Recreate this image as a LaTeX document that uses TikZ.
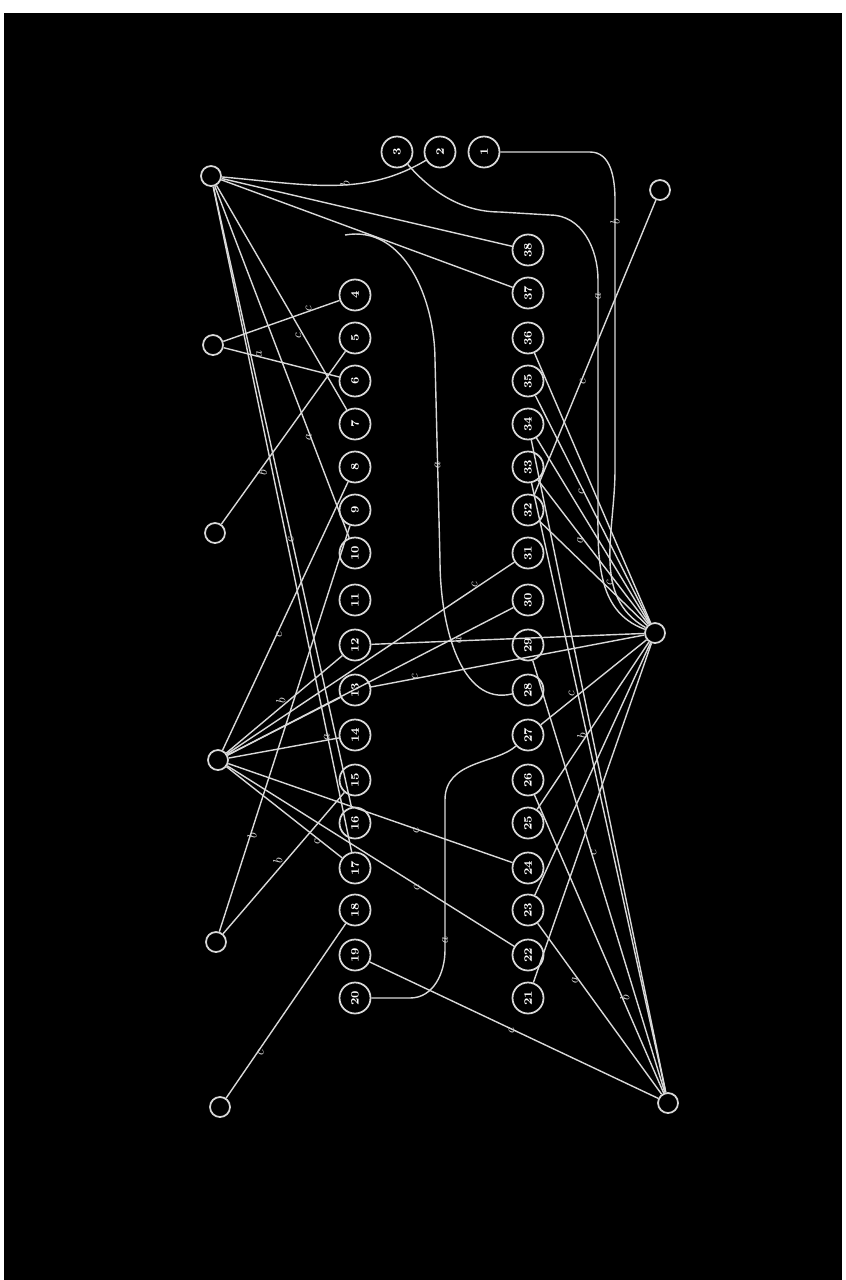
\documentclass[tikz,border=0pt]{standalone}
\usetikzlibrary{positioning}
\begin{document}
\begin{tikzpicture}[x=0.2mm,y=-0.2mm,
    hub/.style={circle,draw=white!85!black,line width=1pt,minimum size=4mm,inner sep=0pt},
    box/.style={circle,draw=white!85!black,line width=1pt,minimum size=6.2mm,inner sep=0pt,
      text=white,font=\fontsize{6.5}{6.5}\selectfont\bfseries,rotate=90},
    wire/.style={draw=white!85!black,line width=0.8pt},
    tag/.style={text=white!85!black,font=\fontsize{7.5}{7.5}\selectfont\itshape,rotate=90,inner sep=1pt}]
    % page and background
    \fill[white] (0,0) rectangle (846,1280);
    \fill[black] (4,13) rectangle (842,1280);
    \useasboundingbox (0,0) rectangle (846,1280);
    % hubs
    \node[hub] (L1) at (211,176) {};
    \node[hub] (L2) at (213,345) {};
    \node[hub] (L3) at (215,533) {};
    \node[hub] (L4) at (218,760) {};
    \node[hub] (L5) at (216,942) {};
    \node[hub] (L6) at (220,1107) {};
    \node[hub] (R1) at (660,190) {};
    \node[hub] (R2) at (655,633) {};
    \node[hub] (R3) at (668,1103) {};
    % numbered circles
    \foreach \n/\x in {1/484,2/440,3/397}
      \node[box] (n\n) at (\x,152) {\n};
    \foreach \n/\y in {4/295,5/338,6/381,7/424,8/467,9/510,10/553,11/600,12/645,
        13/690,14/735,15/780,16/823,17/868,18/910,19/955,20/998}
      \node[box] (n\n) at (355,\y) {\n};
    \foreach \n/\y in {38/250,37/293,36/338,35/381,34/424,33/467,32/510,31/553,30/600,
        29/645,28/690,27/735,26/780,25/823,24/868,23/910,22/955,21/998}
      \node[box] (n\n) at (528,\y) {\n};
    \coordinate (c0) at (345,235);
    % long curves
    \draw[wire] (n1) -- (590,152) to[out=0,in=90] (615,200)
      -- node[tag,pos=0.06,left]{b} (615,470) to[out=-90,in=150] (R2);
    \draw[wire] (n3) to[out=-70,in=180] (500,212) -- (550,215) to[out=0,in=90] (598,280)
      -- node[tag,pos=0.05,left]{a} (598,500) to[out=-90,in=160] (R2);
    \draw[wire] (L1) to[out=-5,in=200] node[tag,pos=0.6,above]{b} (n2);
    \draw[wire] (c0) to[out=10,in=90] (435,360)
      -- node[tag,pos=0.5,left]{a} (440,560) to[out=-90,in=180] (n28);
    \draw[wire] (n20) -- (410,998) to[out=0,in=-90] (445,950)
      -- node[tag,pos=0.1,left]{a} (445,800) to[out=90,in=200] (n27);
    % left hubs
    \draw[wire] (L1) -- (n38);
    \draw[wire] (L1) -- (n37);
    \draw[wire] (L1) -- node[tag,pos=0.67,above]{c} (n7);
    \draw[wire] (L1) -- node[tag,pos=0.7,left]{a} (n10);
    \draw[wire] (L1) -- node[tag,pos=0.56,left]{c} (n16);
    \draw[wire] (L1) -- node[tag,pos=0.82,left]{a} (n17);
    \draw[wire] (L2) -- node[tag,pos=0.78,above]{c} (n4);
    \draw[wire] (L2) -- node[tag,pos=0.26,below]{a} (n6);
    \draw[wire] (L3) -- node[tag,pos=0.33,left]{b} (n5);
    \draw[wire] (L4) -- node[tag,pos=0.45,left]{c} (n8);
    \draw[wire] (L4) -- node[tag,pos=0.53,above]{b} (n12);
    \draw[wire] (L4) -- (n13);
    \draw[wire] (L4) -- (n14);
    \draw[wire] (L4) -- node[tag,pos=0.88,above]{c} (n31);
    \draw[wire] (L4) -- (n30);
    \draw[wire] (L4) -- node[tag,pos=0.68,above]{c} (n24);
    \draw[wire] (L4) -- node[tag,pos=0.68,above]{c} (n22);
    \draw[wire] (L4) -- node[tag,pos=0.83,above]{c} (n17);
    \draw[wire] (L5) -- node[tag,pos=0.25,left]{b} (n9);
    \draw[wire] (L5) -- node[tag,pos=0.51,above]{b} (n15);
    \draw[wire] (L6) -- node[tag,pos=0.29,left]{c} (n18);
    % right hubs
    \draw[wire] (R1) -- node[tag,pos=0.6,left]{c} (n32);
    \draw[wire] (R2) -- (n36);
    \draw[wire] (R2) -- node[tag,pos=0.6,left]{c} (n35);
    \draw[wire] (R2) -- (n34);
    \draw[wire] (R2) -- node[tag,pos=0.62,left]{a} (n33);
    \draw[wire] (R2) -- node[tag,pos=0.35,right]{c} (n32);
    \draw[wire] (R2) -- node[tag,pos=0.66,above]{a} (n12);
    \draw[wire] (R2) -- node[tag,pos=0.82,above]{c} (n13);
    \draw[wire] (R2) -- node[tag,pos=0.71,right]{c} (n27);
    \draw[wire] (R2) -- node[tag,pos=0.6,right]{b} (n25);
    \draw[wire] (R2) -- (n23);
    \draw[wire] (R2) -- (n21);
    \draw[wire] (R3) -- node[tag,pos=0.49,above]{c} (n19);
    \draw[wire] (R3) -- (n34);
    \draw[wire] (R3) -- (n33);
    \draw[wire] (R3) -- node[tag,pos=0.54,right]{c} (n29);
    \draw[wire] (R3) -- node[tag,pos=0.3,right]{b} (n26);
    \draw[wire] (R3) -- node[tag,pos=0.7,left]{a} (n23);
\end{tikzpicture}
\end{document}
